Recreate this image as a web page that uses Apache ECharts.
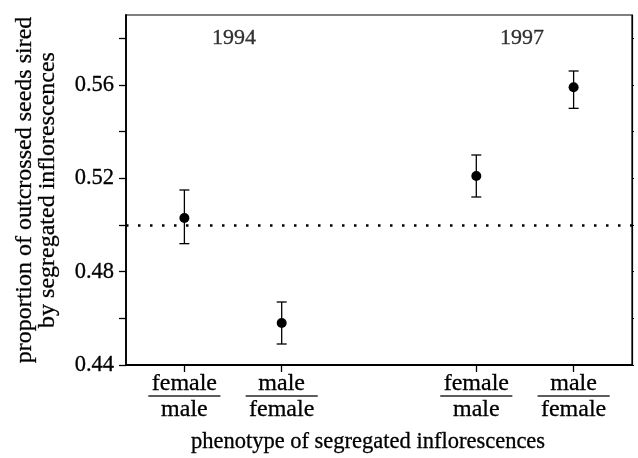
<!DOCTYPE html>
<html>
<head>
<meta charset="utf-8">
<script src="https://cdn.jsdelivr.net/npm/echarts@6/dist/echarts.min.js"></script>
<style>
  html, body { margin: 0; padding: 0; background: #fff; }
  #chart { width: 638px; height: 458px; }
</style>
</head>
<body>
<div id="chart"></div>
<script>
// phenotype groups on a numeric x axis (gap between the two years)
const positions = [1, 2, 4, 5];
const numerators = ['female', 'male', 'female', 'male'];
const denominators = ['male', 'female', 'male', 'female'];

// proportion of outcrossed seeds, mean with error bar ends
const means = [0.503, 0.458, 0.521, 0.559];
const lowers = [0.492, 0.449, 0.512, 0.550];
const uppers = [0.515, 0.467, 0.530, 0.566];

const years = ['1994', '1997'];
const yearX = [1.51, 4.47];
const yearY = 0.58;

const yLabelValues = [0.44, 0.48, 0.52, 0.56];
const yTickValues = [0.44, 0.46, 0.48, 0.50, 0.52, 0.54, 0.56, 0.58];
const refValue = 0.5;

const font = "'Liberation Serif', 'DejaVu Serif', serif";
const ink = { color: '#000', textBorderColor: '#000', textBorderWidth: 0.3 };

const chart = echarts.init(document.getElementById('chart'));

function each(arr, fn) {
    for (let i = 0; i < arr.length; i++) fn(i, arr[i]);
}

let points = [];
let bars = [];
each(positions, function (i, x) {
    points.push([x, means[i]]);
    bars.push([x, lowers[i], uppers[i]]);
});
let yearData = [];
each(years, function (i, y) {
    yearData.push({ value: [yearX[i], yearY], name: y });
});

function renderErrorBar(params, api) {
    const x = api.value(0);
    const top = api.coord([x, api.value(2)]);
    const bottom = api.coord([x, api.value(1)]);
    const half = 5;
    const style = { stroke: '#000', lineWidth: 1.3 };
    return {
        type: 'group',
        children: [
            { type: 'line', shape: { x1: top[0], y1: top[1], x2: bottom[0], y2: bottom[1] }, style: style },
            { type: 'line', shape: { x1: top[0] - half, y1: top[1], x2: top[0] + half, y2: top[1] }, style: style },
            { type: 'line', shape: { x1: bottom[0] - half, y1: bottom[1], x2: bottom[0] + half, y2: bottom[1] }, style: style }
        ]
    };
}

chart.setOption({
    animation: false,
    grid: {
        left: 126,
        right: 6,
        top: 15,
        bottom: 93,
        outerBoundsMode: 'none',
        show: true,
        borderColor: '#000',
        borderWidth: 1.2,
        backgroundColor: 'transparent'
    },
    xAxis: {
        type: 'value',
        min: 0.4,
        max: 5.6,
        name: 'phenotype of segregated inflorescences',
        nameLocation: 'middle',
        nameGap: 66,
        nameTextStyle: Object.assign({ fontFamily: font, fontSize: 22.5, padding: [0, 22, 0, 0] }, ink),
        splitLine: { show: false },
        axisLine: { lineStyle: { color: '#000', width: 1.8 } },
        axisTick: { customValues: positions, length: 7, lineStyle: { color: '#000', width: 1.3 } },
        axisLabel: {
            customValues: positions,
            margin: 9,
            formatter: function (value) {
                const i = positions.indexOf(value);
                if (i < 0) return '';
                return '{n|' + numerators[i] + '}\n{hr|}\n{d|' + denominators[i] + '}';
            },
            rich: {
                n: Object.assign({ fontFamily: font, fontSize: 24, lineHeight: 20, align: 'center' }, ink),
                hr: { borderColor: '#000', borderWidth: 0.8, width: 72, height: 0, lineHeight: 4, align: 'center' },
                d: Object.assign({ fontFamily: font, fontSize: 24, lineHeight: 24, align: 'center' }, ink)
            }
        }
    },
    yAxis: [{
        type: 'value',
        min: 0.44,
        max: 0.59,
        name: 'proportion of outcrossed seeds sired\nby segregated inflorescences',
        nameLocation: 'middle',
        nameGap: 67,
        nameTextStyle: Object.assign({ fontFamily: font, fontSize: 24, lineHeight: 23 }, ink),
        splitLine: { show: false },
        axisLine: { show: true, lineStyle: { color: '#000', width: 1.8 } },
        axisTick: { customValues: yTickValues, length: 7, lineStyle: { color: '#000', width: 1.3 } },
        axisLabel: Object.assign({
            customValues: yLabelValues,
            margin: 12,
            fontFamily: font,
            fontSize: 22.5,
            formatter: function (v) { return v.toFixed(2); }
        }, ink)
    }, {
        type: 'value',
        position: 'right',
        min: 0.44,
        max: 0.59,
        splitLine: { show: false },
        axisLine: { show: true, lineStyle: { color: '#000', width: 1.2 } },
        axisTick: { customValues: yTickValues, length: 2, lineStyle: { color: '#000', width: 1 } },
        axisLabel: { show: false }
    }],
    series: [{
        type: 'custom',
        renderItem: renderErrorBar,
        data: bars,
        z: 3
    }, {
        type: 'scatter',
        data: points,
        symbol: 'circle',
        symbolSize: 10,
        itemStyle: { color: '#000', opacity: 1 },
        z: 4,
        markLine: {
            silent: true,
            symbol: 'none',
            label: { show: false },
            lineStyle: { color: '#000', type: [2.5, 9.5], width: 2.5 },
            data: [{ yAxis: refValue }]
        }
    }, {
        type: 'scatter',
        data: yearData,
        symbolSize: 0,
        label: Object.assign({
            show: true,
            position: 'inside',
            formatter: '{b}',
            fontFamily: font,
            fontSize: 22
        }, ink)
    }]
});
</script>
</body>
</html>
